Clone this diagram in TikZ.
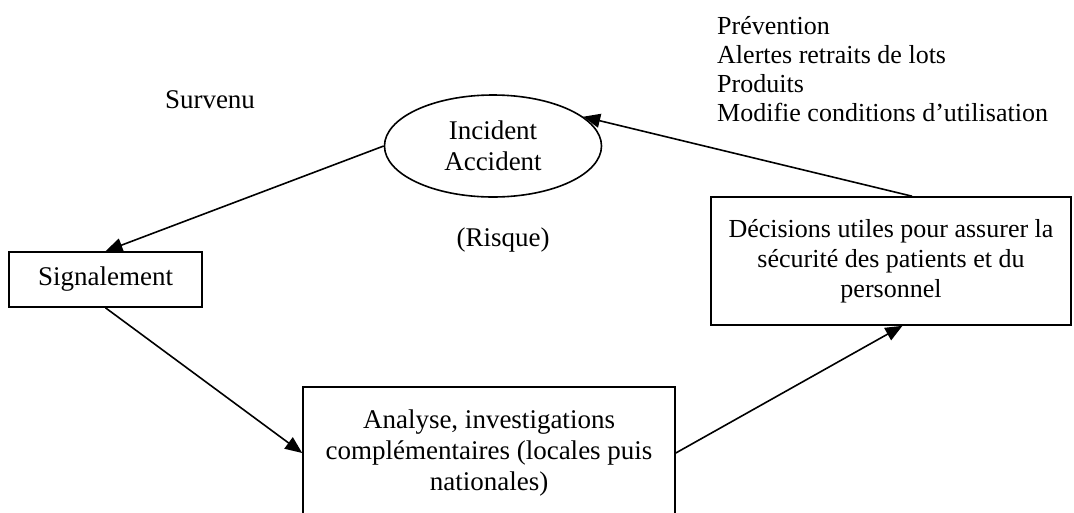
\documentclass[tikz,border=0pt]{standalone}
\usepackage{fontspec}
\setmainfont{Liberation Serif}
\usetikzlibrary{shapes.geometric,arrows.meta}

\begin{document}
\begin{tikzpicture}[x=1pt,y=-1pt,font=\fontsize{27}{31}\selectfont]
    % Define styles
    \tikzset{box/.style={draw, line width=1.6pt, align=center, inner sep=0pt},
             flow/.style={line width=1.6pt, -{Triangle[length=17pt,width=14pt]}}}
    \useasboundingbox (0,0) rectangle (1074,512);

    % Free texts
    \node (survenu) at (210,100) {Survenu};
    \node (risque) at (503,240) {(Risque)};
    \node[anchor=west, align=left, inner sep=0pt, font=\fontsize{26}{29}\selectfont] (actions) at (717,69) {Prévention\\Alertes retraits de lots\\Produits\\Modifie conditions d’utilisation};

    % Event
    \node[box, ellipse, minimum width=217pt, minimum height=102pt] (incident) at (493,146) {Incident\\Accident};

    % Steps
    \node[box, minimum width=193pt, minimum height=55pt] (signal) at (105.5,279.5) {Signalement};
    \node[box, minimum width=372pt, minimum height=132pt] (analyse) at (489,453) {Analyse, investigations\\complémentaires (locales puis\\nationales)};
    \node[box, minimum width=360pt, minimum height=128pt, font=\fontsize{26}{30}\selectfont] (decision) at (891,261) {Décisions utiles pour assurer la\\sécurité des patients et du\\personnel};

    % Cycle
    \draw[flow] (incident.west) -- (signal.north);
    \draw[flow] (signal.south) -- (analyse.west);
    \draw[flow] (analyse.east) -- (decision.-80);
    \draw[flow] (decision.72) -- (incident.18);
\end{tikzpicture}
\end{document}
